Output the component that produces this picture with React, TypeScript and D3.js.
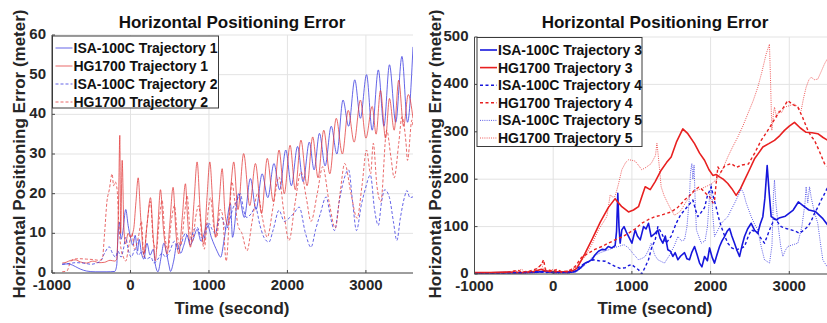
import React from 'react';
import * as d3 from 'd3';

const xTicks = [-1000, 0, 1000, 2000, 3000];
const leftYTicks = [0, 10, 20, 30, 40, 50, 60];
const rightYTicks = [0, 100, 200, 300, 400, 500];
const titleText = 'Horizontal Positioning Error';
const yLabelText = 'Horizontal Positioning Error (meter)';
const xLabelText = 'Time (second)';

// ---- Left panel series: [time (s), error (m)] ----
const isaT1: [number, number][] = [
  [-870,2.2],[-800,2.3],[-740,2.0],[-700,1.6],[-640,1.0],[-560,0.5],[-450,0.3],[-300,0.3],[-200,0.4],[-175,2],[-160,9],[-140,12.8],[-120,8.5],[-100,10],[-60,16],[-30,12],[0,9],[30,7],[60,9.5],[90,5.5],[110,8.5],[140,5],[170,3.5],[210,7.5],[250,4.5],[290,6],[318,2],[350,0.3],[390,4],[425,7.5],[460,5],[490,2],[510,0.4],[550,3],[594,7.5],[640,5],[680,7],[722,9.5],[760,7],[800,8.5],[849,11],[900,8],[940,10],[977,12.5],[1030,9],[1070,7],[1104,5.5],[1150,4],[1190,8],[1228,13],[1274,17.5],[1300,9],[1378,20],[1450,14],[1528,23.8],[1600,16],[1678,25],[1750,19],[1828,27.6],[1900,21],[1979,31],[2050,22],[2129,31.9],[2200,23],[2279,33],[2340,26],[2408,35.2],[2480,27],[2558,37],[2630,30],[2708,43.6],[2780,37],[2858,48.7],[2930,39],[3008,50],[3080,36],[3158,51.2],[3230,37],[3300,52.5],[3380,38],[3459,54.6],[3530,38],[3600,57]
];
const hgT1: [number, number][] = [
  [-870,2.5],[-820,2.7],[-760,3.2],[-700,3.3],[-640,2.8],[-560,2.5],[-480,3],[-400,2.6],[-330,2.7],[-260,3.2],[-200,3],[-175,3.5],[-150,20],[-136,34.7],[-125,10],[-106,28.4],[-85,12],[-64,7.3],[-30,10],[0,9],[40,11],[70,18],[98,24],[130,14],[170,4.8],[210,12],[255,19],[290,9],[318,3.1],[350,12],[382,21],[420,11],[467,4.8],[500,12],[543,21.6],[580,10],[615,4.8],[660,14],[700,22.5],[730,13],[764,6.5],[810,18],[849,28],[890,15],[934,7.3],[975,19],[1011,28],[1050,17],[1083,9],[1130,18],[1168,26.3],[1205,15],[1240,12],[1280,22],[1316,28],[1370,16],[1442,30.1],[1520,17],[1592,27.6],[1670,15],[1743,28.9],[1820,18],[1893,31],[1960,20],[2034,32.2],[2100,21],[2172,33.5],[2250,22],[2322,34.3],[2390,24],[2463,36],[2540,25],[2622,39],[2700,30],[2775,41],[2850,33],[2930,43.6],[3000,34],[3080,42],[3130,35],[3185,46],[3250,34],[3300,44],[3360,36],[3418,48.6],[3480,37],[3540,45],[3600,39]
];
const isaT2: [number, number][] = [
  [-870,2.2],[-780,2.4],[-700,2.6],[-600,2.5],[-500,2.2],[-420,2.6],[-380,3],[-330,5],[-270,6.6],[-230,5],[-190,4],[-160,5.5],[-120,4],[-90,6],[-60,9],[-30,6],[10,4],[60,6],[100,4.5],[150,5.5],[200,3.5],[260,4],[300,2.5],[350,3.5],[400,5],[450,4],[500,5.5],[560,8],[600,6],[640,7],[700,10],[760,8],[810,11],[850,11.5],[900,9],[930,8.5],[1000,12.5],[1040,11],[1080,10],[1120,13],[1160,14],[1220,11],[1260,13],[1300,16],[1350,18],[1401,20],[1440,16],[1480,14],[1540,15],[1592,16.6],[1650,12],[1700,9],[1764,7.8],[1820,11],[1893,15.8],[1960,13],[2030,14],[2080,15],[2150,16.6],[2230,10],[2300,6.5],[2360,11],[2420,15],[2493,19.2],[2550,14],[2600,10.7],[2660,18],[2700,22],[2780,26],[2830,18],[2880,10.7],[2940,17],[2990,21],[3057,24.7],[3110,16],[3158,12],[3200,18],[3240,21],[3300,19],[3350,13],[3394,8.2],[3440,14],[3490,19],[3523,20.8],[3560,19],[3600,19.2]
];
const hgT2: [number, number][] = [
  [-870,0.3],[-810,0.5],[-770,2.5],[-720,3.5],[-650,3.6],[-560,3.5],[-480,3.4],[-400,3.2],[-360,3.5],[-330,10],[-300,18],[-270,21],[-234,25],[-215,22],[-195,23],[-170,21],[-150,13],[-120,6],[-90,4],[-60,3],[-20,7],[20,10],[50,6],[100,9],[140,13],[170,4],[210,12],[255,18],[290,8],[330,6],[370,14],[403,18.3],[440,9],[480,6],[520,13],[560,17],[600,9],[640,7],[690,15],[722,19.5],[760,10],[790,8],[830,14],[870,17],[905,10],[940,6],[980,14],[1020,19],[1060,12],[1100,9],[1140,16],[1170,15],[1220,3],[1260,14],[1292,23],[1330,18],[1370,12],[1420,10],[1485,5.6],[1550,13],[1620,20],[1680,14],[1743,9],[1820,17],[1893,24.2],[1950,16],[2020,8.2],[2100,18],[2172,25.5],[2240,19],[2300,13],[2380,20],[2450,26.8],[2530,18],[2610,11.3],[2670,20],[2730,27.6],[2810,20],[2888,13.8],[2950,22],[3008,31],[3060,25],[3094,32.7],[3140,22],[3190,18],[3265,36],[3320,29],[3360,24],[3420,33],[3459,39.4],[3510,33],[3530,28.4],[3587,38.6],[3600,37]
];

// ---- Right panel series ----
const isaT3: [number, number][] = [
  [-1000,2],[-800,2.5],[-600,3],[-400,2.5],[-200,4],[-100,6],[0,3],[100,4],[200,3],[280,5],[340,12],[406,23],[450,26],[491,30],[530,40],[575,48],[620,52],[660,51],[700,58],[745,55],[787,60],[805,90],[821,170],[836,100],[851,65],[872,93],[900,100],[936,86],[970,75],[1000,65],[1042,93],[1070,80],[1106,72],[1148,100],[1180,95],[1211,107],[1245,79],[1290,85],[1330,93],[1360,75],[1393,65],[1425,80],[1457,51],[1490,48],[1521,37],[1550,45],[1584,30],[1620,38],[1669,45],[1700,32],[1732,30],[1760,45],[1796,58],[1830,40],[1860,23],[1890,15],[1923,37],[1960,28],[1987,55],[2020,35],[2050,23],[2080,40],[2114,58],[2145,70],[2177,79],[2210,90],[2241,96],[2270,80],[2304,65],[2335,50],[2368,37],[2400,60],[2431,79],[2470,95],[2516,107],[2560,92],[2600,86],[2630,105],[2664,121],[2690,160],[2719,229],[2745,170],[2770,121],[2800,118],[2833,114],[2870,118],[2950,122],[3050,135],[3115,152],[3170,145],[3250,135],[3330,132],[3420,118],[3490,103],[3600,97]
];
const hgT3: [number, number][] = [
  [-1000,3],[-800,3],[-600,4],[-400,3],[-250,5],[-150,10],[-100,6],[0,5],[100,4],[200,5],[260,8],[300,12],[400,42],[500,75],[600,110],[700,140],[787,159],[830,150],[872,142],[957,131],[1020,135],[1084,142],[1130,165],[1169,184],[1233,178],[1296,195],[1372,219],[1440,235],[1499,247],[1570,280],[1647,306],[1711,296],[1796,275],[1860,255],[1923,240],[1980,220],[2029,208],[2070,210],[2113,205],[2160,200],[2219,191],[2270,180],[2325,166],[2380,180],[2431,198],[2500,222],[2558,243],[2610,255],[2664,268],[2740,275],[2812,282],[2880,292],[2939,303],[3000,312],[3066,320],[3140,308],[3214,299],[3290,298],[3362,296],[3430,288],[3490,282],[3600,280]
];
const isaT4: [number, number][] = [
  [-1000,2],[-700,2],[-400,3],[-200,5],[-100,3],[0,4],[100,3],[200,4],[280,6],[338,16],[420,24],[508,30],[580,28],[660,27],[720,22],[787,16],[850,12],[914,13],[960,18],[999,20],[1040,14],[1084,9],[1126,0],[1170,15],[1211,30],[1250,55],[1296,72],[1330,100],[1380,85],[1436,65],[1500,80],[1563,107],[1620,125],[1669,135],[1720,145],[1775,156],[1810,135],[1838,121],[1880,130],[1923,140],[1960,165],[2008,184],[2040,160],[2072,140],[2100,120],[2135,100],[2180,80],[2219,65],[2270,55],[2325,51],[2380,54],[2431,58],[2480,80],[2516,93],[2560,90],[2600,86],[2640,75],[2685,65],[2720,80],[2749,93],[2780,105],[2812,117],[2850,110],[2897,100],[2960,96],[3024,93],[3080,90],[3130,86],[3180,92],[3236,100],[3280,112],[3320,128],[3360,140],[3405,156],[3450,170],[3490,184],[3600,200]
];
const hgT4: [number, number][] = [
  [-1000,2],[-800,3],[-600,3],[-450,8],[-400,4],[-300,6],[-200,12],[-150,20],[-122,30],[-100,10],[-50,8],[0,6],[50,10],[100,5],[200,6],[280,16],[360,35],[449,44],[530,52],[618,58],[700,65],[787,72],[870,78],[957,86],[1040,95],[1126,107],[1210,115],[1296,121],[1372,124],[1440,128],[1499,131],[1580,140],[1669,156],[1730,165],[1796,177],[1850,183],[1881,180],[1940,170],[1987,163],[2030,150],[2050,155],[2070,190],[2093,226],[2130,215],[2180,228],[2262,233],[2330,225],[2400,230],[2480,232],[2560,255],[2643,282],[2700,296],[2727,303],[2790,320],[2854,338],[2920,350],[2981,366],[3040,358],[3109,352],[3170,330],[3236,303],[3280,290],[3320,282],[3380,260],[3447,233],[3500,225],[3600,215]
];
const isaT5: [number, number][] = [
  [-1000,1],[-600,1.5],[-300,2],[-100,4],[0,2],[200,2],[300,5],[400,18],[508,37],[600,45],[702,51],[760,55],[829,58],[900,62],[957,55],[1020,42],[1084,30],[1130,33],[1169,37],[1210,50],[1245,65],[1290,40],[1330,30],[1414,23],[1480,40],[1540,60],[1584,79],[1630,70],[1669,72],[1700,100],[1732,163],[1745,215],[1762,233],[1775,200],[1790,230],[1805,150],[1820,93],[1881,65],[1930,70],[1960,100],[1985,160],[2008,190],[2030,120],[2050,79],[2100,95],[2135,107],[2219,121],[2260,135],[2304,149],[2350,165],[2389,180],[2420,170],[2452,150],[2516,121],[2560,105],[2600,93],[2640,60],[2685,30],[2749,23],[2780,60],[2800,170],[2812,198],[2830,150],[2860,100],[2890,60],[2918,37],[2950,50],[2981,58],[3050,62],[3109,65],[3160,100],[3200,150],[3214,184],[3235,150],[3257,184],[3280,160],[3320,130],[3362,107],[3400,60],[3426,30],[3490,13],[3600,5]
];
const hgT5: [number, number][] = [
  [-1000,3],[-700,3],[-500,4],[-400,10],[-350,3],[-250,6],[-180,15],[-150,22],[-120,8],[-50,5],[0,10],[50,6],[150,5],[200,8],[290,14],[406,37],[500,65],[575,93],[640,110],[681,121],[700,140],[724,167],[760,162],[787,164],[830,190],[872,220],[920,235],[957,241],[1000,240],[1042,238],[1090,228],[1126,220],[1180,225],[1245,233],[1300,250],[1318,276],[1335,250],[1372,184],[1410,165],[1457,149],[1500,135],[1541,124],[1600,130],[1626,135],[1680,150],[1740,165],[1800,175],[1880,180],[1950,185],[2008,190],[2080,200],[2150,220],[2219,247],[2280,268],[2346,289],[2410,312],[2473,338],[2540,365],[2600,394],[2650,425],[2706,464],[2748,485],[2760,420],[2778,303],[2800,340],[2812,352],[2840,330],[2870,345],[2900,340],[2939,352],[3000,355],[3066,359],[3120,350],[3151,345],[3180,370],[3214,394],[3250,410],[3278,415],[3320,410],[3362,411],[3400,425],[3447,443],[3494,457],[3600,470]
];

const leftNames = ['ISA-100C Trajectory 1', 'HG1700 Trajectory 1', 'ISA-100C Trajectory 2', 'HG1700 Trajectory 2'];
const rightNames = ['ISA-100C Trajectory 3', 'HG1700 Trajectory 3', 'ISA-100C Trajectory 4', 'HG1700 Trajectory 4', 'ISA-100C Trajectory 5', 'HG1700 Trajectory 5'];

type Style = { color: string; width: number; dash?: string; opacity?: number };
type Series = { name: string; data: [number, number][]; style: Style };

const BLUE_L = '#3535e0';
const RED_L = '#e23a3a';
const BLUE_R = '#1616dc';
const RED_R = '#e82020';

const leftSeries: Series[] = [
  { name: leftNames[0], data: isaT1, style: { color: BLUE_L, width: 0.9, opacity: 0.85 } },
  { name: leftNames[1], data: hgT1, style: { color: RED_L, width: 0.9, opacity: 0.85 } },
  { name: leftNames[2], data: isaT2, style: { color: BLUE_L, width: 0.9, dash: '3,2', opacity: 0.85 } },
  { name: leftNames[3], data: hgT2, style: { color: RED_L, width: 0.9, dash: '3,2', opacity: 0.85 } },
];
const rightSeries: Series[] = [
  { name: rightNames[0], data: isaT3, style: { color: BLUE_R, width: 1.6 } },
  { name: rightNames[1], data: hgT3, style: { color: RED_R, width: 1.6 } },
  { name: rightNames[2], data: isaT4, style: { color: BLUE_R, width: 1.4, dash: '3,2.5' } },
  { name: rightNames[3], data: hgT4, style: { color: RED_R, width: 1.4, dash: '3,2.5' } },
  { name: rightNames[4], data: isaT5, style: { color: BLUE_R, width: 1, dash: '1,1.2', opacity: 0.7 } },
  { name: rightNames[5], data: hgT5, style: { color: RED_R, width: 1, dash: '1,1.2', opacity: 0.75 } },
];

const FONT = '"Liberation Sans", Arial, Helvetica, sans-serif';

type PanelProps = {
  id: string;
  left: number; right: number; top: number; bottom: number;
  xDomain: [number, number];
  yDomain: [number, number];
  yTicks: number[];
  series: Series[];
  smooth: boolean;
  titleX: number;
  yLabelX: number;
  legend: { x: number; y: number; w: number; firstRow: number; rowH: number; h: number };
};

function Panel(p: PanelProps) {
  const x = d3.scaleLinear().domain(p.xDomain).range([p.left, p.right]);
  const y = d3.scaleLinear().domain(p.yDomain).range([p.bottom, p.top]);
  const line = d3.line<[number, number]>()
    .x(d => x(d[0])).y(d => y(d[1]))
    .curve(p.smooth ? d3.curveMonotoneX : d3.curveLinear);
  const titleX = p.titleX;
  return (
    <g>
      <defs>
        <clipPath id={`clip-${p.id}`}>
          <rect x={p.left} y={p.top - 2} width={p.right - p.left} height={p.bottom - p.top + 2} />
        </clipPath>
      </defs>
      {xTicks.map(t => (
        <line key={`gx${t}`} x1={x(t)} x2={x(t)} y1={p.top} y2={p.bottom} stroke="#e3e3e3" strokeWidth={1} />
      ))}
      {p.yTicks.map(t => (
        <line key={`gy${t}`} x1={p.left} x2={p.right} y1={y(t)} y2={y(t)} stroke="#e3e3e3" strokeWidth={1} />
      ))}
      <g clipPath={`url(#clip-${p.id})`}>
        {p.series.map(s => (
          <path key={s.name} d={line(s.data) || ''} fill="none" stroke={s.style.color}
            strokeWidth={s.style.width} strokeDasharray={s.style.dash}
            strokeOpacity={s.style.opacity ?? 1} strokeLinejoin="round" />
        ))}
      </g>
      <line x1={p.left} x2={p.left} y1={p.top} y2={p.bottom} stroke="#4a4a4a" strokeWidth={1} />
      <line x1={p.left} x2={p.right} y1={p.bottom} y2={p.bottom} stroke="#4a4a4a" strokeWidth={1} />
      {xTicks.map(t => (
        <g key={`tx${t}`}>
          <line x1={x(t)} x2={x(t)} y1={p.bottom} y2={p.bottom - 3} stroke="#4a4a4a" />
          <text x={x(t)} y={p.bottom + 17} textAnchor="middle" fontSize={15} fontWeight="bold" fill="#262626">{t}</text>
        </g>
      ))}
      {p.yTicks.map(t => (
        <g key={`ty${t}`}>
          <line x1={p.left} x2={p.left + 3} y1={y(t)} y2={y(t)} stroke="#4a4a4a" />
          <text x={p.left - 6} y={y(t) + 4} textAnchor="end" fontSize={15} fontWeight="bold" fill="#262626">{t}</text>
        </g>
      ))}
      <text x={titleX} y={28} textAnchor="middle" fontSize={17} fontWeight="bold" fill="#111">{titleText}</text>
      <text x={titleX} y={314} textAnchor="middle" fontSize={17} fontWeight="bold" fill="#262626">{xLabelText}</text>
      <text transform={`translate(${p.yLabelX},${154}) rotate(-90)`} textAnchor="middle" fontSize={17} fontWeight="bold" fill="#262626">{yLabelText}</text>
      <rect x={p.legend.x} y={p.legend.y} width={p.legend.w} height={p.legend.h} fill="#fff" stroke="#3a3a3a" strokeWidth={1} />
      {p.series.map((s, i) => {
        const ry = p.legend.firstRow + i * p.legend.rowH;
        return (
          <g key={`lg${i}`}>
            <line x1={p.legend.x + 3} x2={p.legend.x + 20} y1={ry} y2={ry} stroke={s.style.color}
              strokeWidth={s.style.width} strokeDasharray={s.style.dash} strokeOpacity={s.style.opacity ?? 1} />
            <text x={p.legend.x + 21} y={ry + 5} fontSize={14} fontWeight="bold" fill="#111">{s.name}</text>
          </g>
        );
      })}
    </g>
  );
}

export default function App() {
  return (
    <svg width={827} height={323} viewBox="0 0 827 323"
      style={{ position: 'absolute', left: 0, top: 0, background: '#fff', fontFamily: FONT }}>
      <rect x={0} y={0} width={827} height={323} fill="#fff" />
      <Panel id="L" left={52} right={413} top={35} bottom={273}
        xDomain={[-1000, 3600]} yDomain={[0, 60]} yTicks={leftYTicks}
        series={leftSeries} smooth={true} titleX={232} yLabelX={25}
        legend={{ x: 52.5, y: 36, w: 166, firstRow: 48, rowH: 18, h: 72 }} />
      <Panel id="R" left={474.5} right={836.5} top={37} bottom={274}
        xDomain={[-1000, 3600]} yDomain={[0, 500]} yTicks={rightYTicks}
        series={rightSeries} smooth={false} titleX={655} yLabelX={441}
        legend={{ x: 477, y: 37.5, w: 165, firstRow: 50, rowH: 17.6, h: 109 }} />
    </svg>
  );
}
